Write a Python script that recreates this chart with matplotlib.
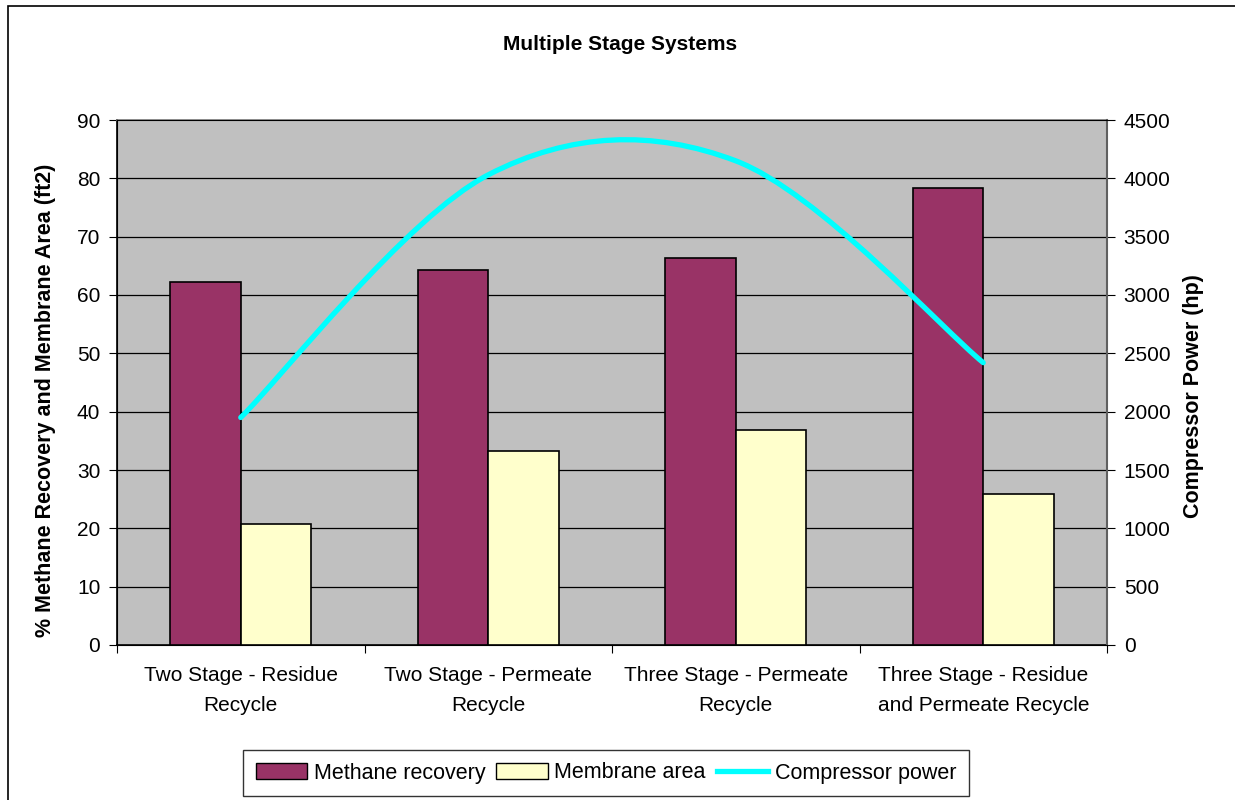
import numpy as np
import matplotlib
matplotlib.use("Agg")
import matplotlib.pyplot as plt
from matplotlib.path import Path
from matplotlib.patches import PathPatch, Patch, Rectangle
from matplotlib.lines import Line2D

plt.rcParams['font.family'] = ['Liberation Sans', 'DejaVu Sans']

categories = ["Two Stage - Residue\nRecycle",
              "Two Stage - Permeate\nRecycle",
              "Three Stage - Permeate\nRecycle",
              "Three Stage - Residue\nand Permeate Recycle"]
methane_recovery = [62.2, 64.2, 66.4, 78.3]
membrane_area = [20.7, 33.3, 36.9, 25.9]
compressor_power = [1950, 4030, 4150, 2420]

left_ticks = list(range(0, 91, 10))
right_ticks = list(range(0, 4501, 500))

MAROON = "#993366"
CREAM = "#FFFFCC"
CYAN = "#00FFFF"
PLOT_BG = "#C0C0C0"

W, H = 1235, 800
fig = plt.figure(figsize=(W / 100, H / 100), dpi=100)
fig.patch.set_facecolor("white")

# chart frame
fig.patches.append(Rectangle((8 / W, -0.01), 1.02, 1 - 6 / H + 0.01,
                             transform=fig.transFigure, fill=False,
                             edgecolor="black", linewidth=1.2, zorder=0))

x0, x1, y0, y1 = 117, 1107, 120, 645
ax = fig.add_axes([x0 / W, 1 - y1 / H, (x1 - x0) / W, (y1 - y0) / H])
ax.set_facecolor(PLOT_BG)

x = np.arange(len(categories))
bw = 1 / 3.5
ax.bar(x - bw / 2, methane_recovery, bw, color=MAROON, edgecolor="black",
       linewidth=1.2, zorder=3)
ax.bar(x + bw / 2, membrane_area, bw, color=CREAM, edgecolor="black",
       linewidth=1.2, zorder=3)

ax.set_xlim(-0.5, len(categories) - 0.5)
ax.set_ylim(0, 90)
ax.set_yticks(left_ticks)
for v in left_ticks[1:-1]:
    ax.axhline(v, color="black", linewidth=0.9, zorder=1)

ax.set_xticks(np.arange(-0.5, len(categories)), labels=[""] * (len(categories) + 1))
ax.set_xticks(x, labels=categories, minor=True)
ax.tick_params(axis="x", which="major", length=6, width=0.8, direction="out")
ax.tick_params(axis="x", which="minor", length=0, pad=15, labelsize=15)
ax.tick_params(axis="y", length=6, width=0.8, direction="out", labelsize=15, pad=6)
for lbl in ax.get_xticklabels(minor=True):
    lbl.set_linespacing(1.75)

ax.spines["left"].set_color("black")
ax.spines["bottom"].set_color("black")
ax.spines["top"].set_color("#808080")
ax.spines["right"].set_color("#808080")
for s in ax.spines.values():
    s.set_linewidth(1.2)

ax.set_ylabel("% Methane Recovery and Membrane Area (ft2)", fontsize=15.5,
              fontweight="bold")
ax.yaxis.set_label_coords(-0.062, 0.467)

ax2 = ax.twinx()
ax2.set_ylim(0, 4500)
ax2.set_yticks(right_ticks)
ax2.tick_params(axis="y", length=6, width=0.8, direction="out", labelsize=15, pad=6)
ax2.spines["right"].set_color("#606060")
ax2.spines["right"].set_linewidth(1.5)
ax2.set_ylabel("Compressor Power (hp)", fontsize=15.5, fontweight="bold")
ax2.yaxis.set_label_coords(1.077, 0.474)

# smoothed power curve as cubic Bezier segments through the data points
pts = np.column_stack([x.astype(float), np.array(compressor_power, float)])
n = len(pts)
verts = [tuple(pts[0])]
codes = [Path.MOVETO]
for i in range(n - 1):
    p_prev = pts[i - 1] if i > 0 else pts[i]
    p_next = pts[i + 2] if i + 2 < n else pts[i + 1]
    c1 = pts[i] + (pts[i + 1] - p_prev) / 6
    c2 = pts[i + 1] - (p_next - pts[i]) / 6
    verts += [tuple(c1), tuple(c2), tuple(pts[i + 1])]
    codes += [Path.CURVE4] * 3
ax2.add_patch(PathPatch(Path(verts, codes), facecolor="none", edgecolor=CYAN,
                        linewidth=3.8, capstyle="round", joinstyle="round",
                        zorder=5))

fig.text(620 / W, 1 - 44 / H, "Multiple Stage Systems", ha="center",
         va="center", fontsize=15, fontweight="bold")

handles = [Patch(facecolor=MAROON, edgecolor="black", linewidth=1.0),
           Patch(facecolor=CREAM, edgecolor="black", linewidth=1.0),
           Line2D([0], [0], color=CYAN, linewidth=3.8)]
leg = fig.legend(handles, ["Methane recovery", "Membrane area", "Compressor power"],
                 loc="center", bbox_to_anchor=(606 / W, 1 - 773 / H), ncol=3,
                 frameon=True, fancybox=False, fontsize=15.5, handlelength=2.4,
                 handleheight=0.7, handletextpad=0.3, columnspacing=0.5,
                 borderpad=0.6, borderaxespad=0)
leg.get_frame().set_edgecolor("black")
leg.get_frame().set_linewidth(1.0)

fig.savefig("out.png", dpi=100)
